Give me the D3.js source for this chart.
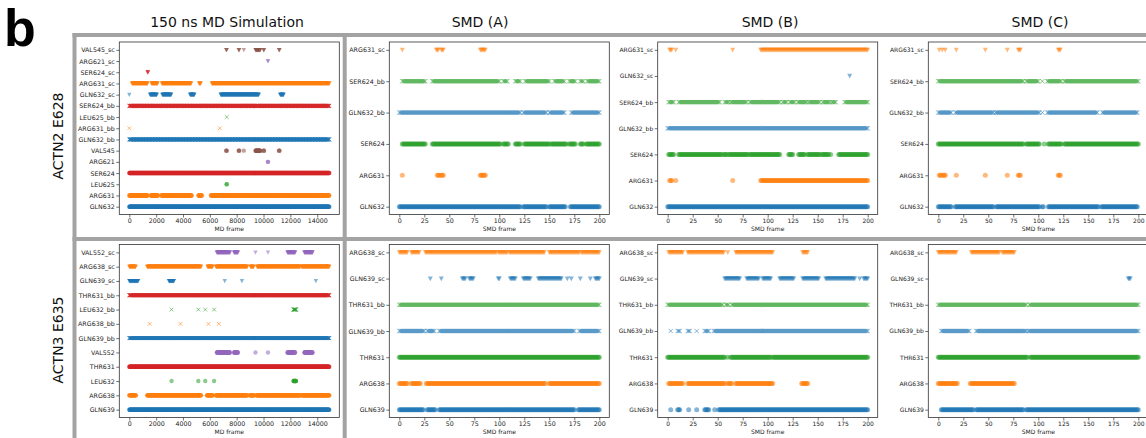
<!DOCTYPE html>
<html>
<head>
<meta charset="utf-8">
<script src="https://cdn.jsdelivr.net/npm/d3@7/dist/d3.min.js"></script>
<style>
body{margin:0;background:#fff;}
svg{display:block;font-family:"DejaVu Sans",sans-serif;}
</style>
</head>
<body>
<svg id="fig" width="1146" height="438"></svg>
<script>
// ---- data: contact frames per row, stored as [first, last] frame runs ----
const columnTitles = ["150 ns MD Simulation", "SMD (A)", "SMD (B)", "SMD (C)"];
const rowTitles = ["ACTN2 E628", "ACTN3 E635"];
const mdTickValues = [0, 2000, 4000, 6000, 8000, 10000, 12000, 14000];
const smdTickValues = [0, 25, 50, 75, 100, 125, 150, 175, 200];
const mdFrameRange = [0, 14900];
const smdFrameRange = [0, 200];
const mdFrameStep = 20;   // drawn MD snapshot spacing
const smdFrameStep = 1;

const md628Rows = ["VAL545_sc","ARG621_sc","SER624_sc","ARG631_sc","GLN632_sc","SER624_bb","LEU625_bb",
  "ARG631_bb","GLN632_bb","VAL545","ARG621","SER624","LEU625","ARG631","GLN632"];
const md628Residues = ["GLN632","ARG631","LEU625","SER624","ARG621","VAL545"];
const md628Contacts = {
  "VAL545_sc": [[7220,7260],[8150,8190],[8530,8530],[9400,9760],[10000,10040],[11150,11190]],
  "ARG621_sc": [[10320,10340]],
  "SER624_sc": [[1360,1390]],
  "ARG631_sc": [[200,1350],[1650,2100],[2430,4600],[5200,5320],[6150,14900]],
  "GLN632_sc": [[0,0],[1550,2050],[2460,3120],[4530,4850],[6810,9640],[11240,11490]],
  "SER624_bb": [[0,14900]],
  "LEU625_bb": [[7257,7257]],
  "ARG631_bb": [[0,0],[6740,6740]],
  "GLN632_bb": [[0,14900]],
  "VAL545": [[7220,7260],[8150,8190],[8530,8530],[9400,9760],[10000,10040],[11150,11190]],
  "ARG621": [[10320,10340]],
  "SER624": [[0,14900]],
  "LEU625": [[7250,7260]],
  "ARG631": [[0,1350],[1600,2140],[2390,4650],[5150,5410],[6080,14900]],
  "GLN632": [[0,14900]]
};

const md635Rows = ["VAL552_sc","ARG638_sc","GLN639_sc","THR631_bb","LEU632_bb","ARG638_bb","GLN639_bb",
  "VAL552","THR631","LEU632","ARG638","GLN639"];
const md635Residues = ["GLN639","ARG638","LEU632","THR631","VAL552"];
const md635Contacts = {
  "VAL552_sc": [[6520,7500],[7800,8090],[9400,9400],[10330,10330],[11780,12350],[13040,13650]],
  "ARG638_sc": [[0,470],[1330,5340],[5830,6200],[6450,8780],[9030,9270],[9520,12720],[12840,14900]],
  "GLN639_sc": [[0,660],[2950,3320],[7110,7110],[8390,8390],[13900,13900]],
  "THR631_bb": [[0,14900]],
  "LEU632_bb": [[3150,3150],[5140,5140],[5660,5660],[6320,6320],[12230,12420]],
  "ARG638_bb": [[1525,1525],[3810,3810],[5900,5900],[6670,6670]],
  "GLN639_bb": [[0,14900]],
  "VAL552": [[6520,7500],[7800,8090],[9400,9400],[10330,10330],[11780,12350],[13040,13650]],
  "THR631": [[0,14900]],
  "LEU632": [[3150,3150],[5140,5140],[5660,5660],[6320,6320],[12230,12420]],
  "ARG638": [[0,490],[1330,5340],[5780,6220],[6450,8780],[8980,9300],[9470,12740],[12870,14900]],
  "GLN639": [[0,14900]]
};

const smd628Residues = ["GLN632","ARG631","SER624"];
const smdA628Rows = ["ARG631_sc","SER624_bb","GLN632_bb","SER624","ARG631","GLN632"];
const smdA628Contacts = {
  "ARG631_sc": [[3,3],[37,39],[42,44],[81,86]],
  "SER624_bb": [[3,26],[33,100],[104,108],[116,121],[126,150],[155,165],[170,176],[181,184],[188,200]],
  "GLN632_bb": [[0,121],[124,147],[150,165],[172,200]],
  "SER624": [[3,26],[33,101],[104,109],[116,121],[125,150],[152,167],[170,176],[181,184],[187,200]],
  "ARG631": [[3,3],[38,40],[42,44],[81,86]],
  "GLN632": [[0,121],[124,147],[150,166],[171,200]]
};
const smdB628Rows = ["ARG631_sc","GLN632_sc","SER624_bb","GLN632_bb","SER624","ARG631","GLN632"];
const smdB628Contacts = {
  "ARG631_sc": [[2,4],[8,8],[65,65],[93,200]],
  "GLN632_sc": [[182,182]],
  "SER624_bb": [[1,6],[11,52],[57,61],[63,79],[82,112],[115,119],[122,127],[130,139],[141,152],[155,162],[164,168],[177,200]],
  "GLN632_bb": [[0,200]],
  "SER624": [[1,6],[11,54],[56,59],[61,80],[82,112],[121,125],[131,137],[140,152],[154,161],[163,163],[171,200]],
  "ARG631": [[2,4],[8,8],[65,65],[93,200]],
  "GLN632": [[0,200]]
};
const smdC628Rows = ["ARG631_sc","SER624_bb","GLN632_bb","SER624","ARG631","GLN632"];
const smdC628Contacts = {
  "ARG631_sc": [[1,1],[4,4],[7,7],[18,18],[47,47],[69,69],[80,82],[120,122]],
  "SER624_bb": [[0,85],[88,100],[104,104],[109,123],[126,200]],
  "GLN632_bb": [[0,13],[17,55],[57,101],[104,104],[109,159],[164,199]],
  "SER624": [[0,85],[88,101],[106,106],[110,123],[126,200]],
  "ARG631": [[1,3],[5,7],[18,18],[47,47],[69,69],[80,82],[120,122]],
  "GLN632": [[0,13],[17,55],[58,101],[104,105],[110,160],[163,199]]
};

const smd635Residues = ["GLN639","ARG638","THR631"];
const smd635Rows = ["ARG638_sc","GLN639_sc","THR631_bb","GLN639_bb","THR631","ARG638","GLN639"];
const smdA635Contacts = {
  "ARG638_sc": [[0,8],[12,20],[26,97],[99,108],[110,145],[150,180],[182,200]],
  "GLN639_sc": [[31,31],[42,42],[63,66],[70,74],[99,100],[111,116],[124,131],[139,162],[168,168],[172,172],[181,181],[191,191],[196,200]],
  "THR631_bb": [[0,200]],
  "GLN639_bb": [[0,25],[28,35],[40,175],[180,200]],
  "THR631": [[0,200]],
  "ARG638": [[0,8],[12,21],[27,146],[150,200]],
  "GLN639": [[0,24],[28,36],[40,175],[179,200]]
};
const smdB635Contacts = {
  "ARG638_sc": [[1,15],[20,56],[60,60],[68,105],[135,140]],
  "GLN639_sc": [[57,72],[79,91],[95,103],[112,126],[135,151],[158,187],[192,192],[196,200]],
  "THR631_bb": [[0,55],[58,61],[64,200]],
  "GLN639_bb": [[3,3],[10,12],[20,22],[29,29],[37,41],[46,200]],
  "THR631": [[0,57],[60,60],[63,103],[105,200]],
  "ARG638": [[1,15],[20,57],[60,64],[68,105],[134,140]],
  "GLN639": [[3,3],[10,12],[21,21],[29,29],[37,41],[47,47],[51,200]]
};
const smdC635Contacts = {
  "ARG638_sc": [[0,18],[33,61],[64,76]],
  "GLN639_sc": [[190,192]],
  "THR631_bb": [[0,88],[91,200]],
  "GLN639_bb": [[3,31],[38,88],[90,200]],
  "THR631": [[0,89],[92,200]],
  "ARG638": [[0,19],[32,76]],
  "GLN639": [[3,35],[38,85],[88,200]]
};

// ---- layout ----
const svg = d3.select("#fig");
const axW = 220;
const rowBands = [[42, 214.5], [244.5, 417.5]];
const colLeft = [119.3, 389.3, 657.7, 928.3];

const panels = [
  {col:0,row:0,rows:md628Rows,residues:md628Residues,contacts:md628Contacts,md:true},
  {col:1,row:0,rows:smdA628Rows,residues:smd628Residues,contacts:smdA628Contacts},
  {col:2,row:0,rows:smdB628Rows,residues:smd628Residues,contacts:smdB628Contacts},
  {col:3,row:0,rows:smdC628Rows,residues:smd628Residues,contacts:smdC628Contacts},
  {col:0,row:1,rows:md635Rows,residues:md635Residues,contacts:md635Contacts,md:true},
  {col:1,row:1,rows:smd635Rows,residues:smd635Residues,contacts:smdA635Contacts},
  {col:2,row:1,rows:smd635Rows,residues:smd635Residues,contacts:smdB635Contacts},
  {col:3,row:1,rows:smd635Rows,residues:smd635Residues,contacts:smdC635Contacts}
];

function expand(runs, step){
  let out = [];
  runs.forEach(([a,b]) => {
    for (let f = a; f <= b; f += step) out.push(f);
    if ((b - a) % step) out.push(b);
  });
  return out;
}

function drawPanel(p){
  const g = svg.append("g");
  const span = p.md ? mdFrameRange : smdFrameRange;
  const pad = (span[1] - span[0]) * 0.05;
  const left = colLeft[p.col];
  const [top, bottom] = rowBands[p.row];
  const x = d3.scaleLinear().domain([span[0]-pad, span[1]+pad]).range([left, left+axW]);
  const y = d3.scalePoint().domain(p.rows).range([top, bottom]).padding(0.05*(p.rows.length-1));
  const color = d3.scaleOrdinal().domain(p.residues).range(d3.schemeCategory10);
  const step = p.md ? mdFrameStep : smdFrameStep;
  const s = p.md ? 2.2 : 2.5;

  const marks = g.append("g").attr("clip-path", null);
  // bottom category first, like the original plotting order
  p.rows.slice().reverse().forEach(row => {
    const kind = row.endsWith("_sc") ? "v" : row.endsWith("_bb") ? "x" : "o";
    const c = color(row.replace(/_(sc|bb)$/, ""));
    const pts = expand(p.contacts[row] || [], step);
    const sel = marks.selectAll(null).data(pts);
    if (kind === "o") {
      sel.enter().append("circle")
        .attr("cx", d => x(d)).attr("cy", y(row)).attr("r", s)
        .attr("fill", c).attr("opacity", 0.55);
    } else if (kind === "v") {
      sel.enter().append("path")
        .attr("d", `M${-s},${-s*0.85}L${s},${-s*0.85}L0,${s*1.05}Z`)
        .attr("transform", d => `translate(${x(d)},${y(row)})`)
        .attr("fill", c).attr("opacity", 0.55);
    } else {
      const h = s*0.85;
      sel.enter().append("path")
        .attr("d", `M${-h},${-h}L${h},${h}M${-h},${h}L${h},${-h}`)
        .attr("transform", d => `translate(${x(d)},${y(row)})`)
        .attr("stroke", c).attr("stroke-width", 1).attr("fill", "none").attr("opacity", 0.55);
    }
  });

  const fs = p.md || p.col === 1 ? 6.3 : 6;
  const yAxis = g.append("g").attr("transform", `translate(${left},0)`)
    .call(d3.axisLeft(y).tickSize(3).tickPadding(1.5));
  const xAxis = g.append("g").attr("transform", `translate(0,${bottom})`)
    .call(d3.axisBottom(x).tickValues(p.md ? mdTickValues : smdTickValues).tickFormat(d3.format("d")).tickSize(3).tickPadding(1.5));
  [yAxis, xAxis].forEach(a => {
    a.select(".domain").remove();
    a.selectAll("text").attr("font-size", fs).attr("fill", "#222").attr("font-family", "DejaVu Sans");
    a.selectAll("line").attr("stroke", "#333").attr("stroke-width", 0.7);
  });
  g.append("rect").attr("x", left).attr("y", top - (bottom-top)*0 ).attr("width", axW)
    .attr("y", y.range()[0]).attr("height", bottom - top)
    .attr("fill", "none").attr("stroke", "#333").attr("stroke-width", 0.8);
  g.append("text").attr("x", left + axW/2).attr("y", bottom + 16.5)
    .attr("text-anchor", "middle").attr("font-size", 6).attr("fill", "#222")
    .text(p.md ? "MD frame" : "SMD frame");
}

panels.forEach(drawPanel);

// grey boxes around the panel groups
const frame = svg.append("g").attr("stroke", "#a3a3a3").attr("stroke-width", 4);
[[72.5, 35, 1146, 35], [72.5, 239, 1146, 239], [74.5, 33, 74.5, 438], [344.7, 33, 344.7, 438]]
  .forEach(([x1,y1,x2,y2]) => frame.append("line").attr("x1",x1).attr("y1",y1).attr("x2",x2).attr("y2",y2));

// titles
const titleX = [227, 480, 770, 1040];
columnTitles.forEach((t,i) => svg.append("text").attr("x", titleX[i]).attr("y", 27)
  .attr("text-anchor", "middle").attr("font-size", 14).attr("fill", "#111").text(t));
const rowTitleY = [136, 340];
rowTitles.forEach((t,i) => svg.append("text")
  .attr("transform", `translate(63,${rowTitleY[i]}) rotate(-90)`)
  .attr("text-anchor", "middle").attr("font-size", 14).attr("fill", "#111").text(t));
svg.append("text").attr("x", 4).attr("y", 46).attr("font-family", "Liberation Sans, Arial, sans-serif")
  .attr("font-weight", "bold").attr("font-size", 52).attr("fill", "#000").text("b");
</script>
</body>
</html>
